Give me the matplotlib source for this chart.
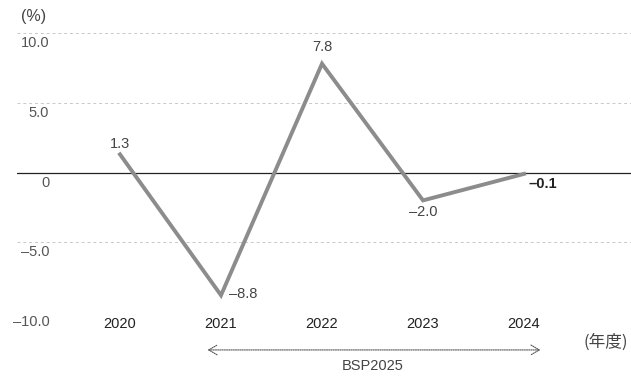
import matplotlib
matplotlib.use("Agg")
import matplotlib.pyplot as plt

plt.rcParams['font.family'] = ['Liberation Sans', 'Noto Sans CJK JP', 'DejaVu Sans']

years = [2020, 2021, 2022, 2023, 2024]
values = [1.3, -8.8, 7.8, -2.0, -0.1]
labels = ["1.3", "–8.8", "7.8", "–2.0", "–0.1"]
yticks = [10, 5, 0, -5, -10]
ytick_labels = ["10.0", "5.0", "0", "–5.0", "–10.0"]

fig = plt.figure(figsize=(6.31, 3.89), dpi=100)
ax = fig.add_axes([17 / 631, 1 - 312 / 389, 614 / 631, 279 / 389])
ax.set_xlim(2020 - 103 / 101, 2020 + 511 / 101)
ax.set_ylim(-10, 10)
ax.axis("off")

fs = 10.5

# grid + zero line, tick labels sit under each line
for v, lab in zip(yticks, ytick_labels):
    if v == 0:
        ax.axhline(0, color="#222222", linewidth=0.9, zorder=2)
    else:
        ax.axhline(v, color="#c8c8c8", linewidth=0.7, linestyle=(0, (3, 3)), zorder=1)
    ax.text(2019.30, v - 0.72, lab, ha="right", va="center", fontsize=fs, color="#555555")

ax.plot(years, values, color="#8c8c8c", linewidth=2.8, solid_joinstyle="miter", zorder=3)

# data labels
ax.text(2020, 1.3 + 0.75, labels[0], ha="center", va="center", fontsize=fs, color="#444444")
ax.text(2021 + 0.08, -8.8 + 0.1, labels[1], ha="left", va="center", fontsize=fs, color="#444444")
ax.text(2022, 7.8 + 1.2, labels[2], ha="center", va="center", fontsize=fs, color="#444444")
ax.text(2023, -2.0 - 0.85, labels[3], ha="center", va="center", fontsize=fs, color="#444444")
ax.text(2024 + 0.04, -0.1 - 0.7, labels[4], ha="left", va="center", fontsize=fs,
        color="#222222", fontweight="bold")

# x labels
for yr in years:
    ax.text(yr, -10.86, str(yr), ha="center", va="center", fontsize=fs, color="#222222")

ax.text(2024.81, -12.15, "(年度)", ha="center", va="center", fontsize=12, color="#444444",
        family=["Noto Sans CJK JP", "DejaVu Sans"])
ax.text(2019.14, 11.15, "(%)", ha="center", va="center", fontsize=11.5, color="#444444")

ax.annotate("", xy=(2024.19, -12.72), xytext=(2020.84, -12.72), xycoords="data",
            annotation_clip=False,
            arrowprops=dict(arrowstyle="<->,head_length=0.6,head_width=0.35",
                            color="#555555", linewidth=0.8, linestyle=(0, (1, 1))))
ax.text(2022.5, -13.87, "BSP2025", ha="center", va="center", fontsize=fs, color="#444444")

fig.savefig("out.png", dpi=100)
